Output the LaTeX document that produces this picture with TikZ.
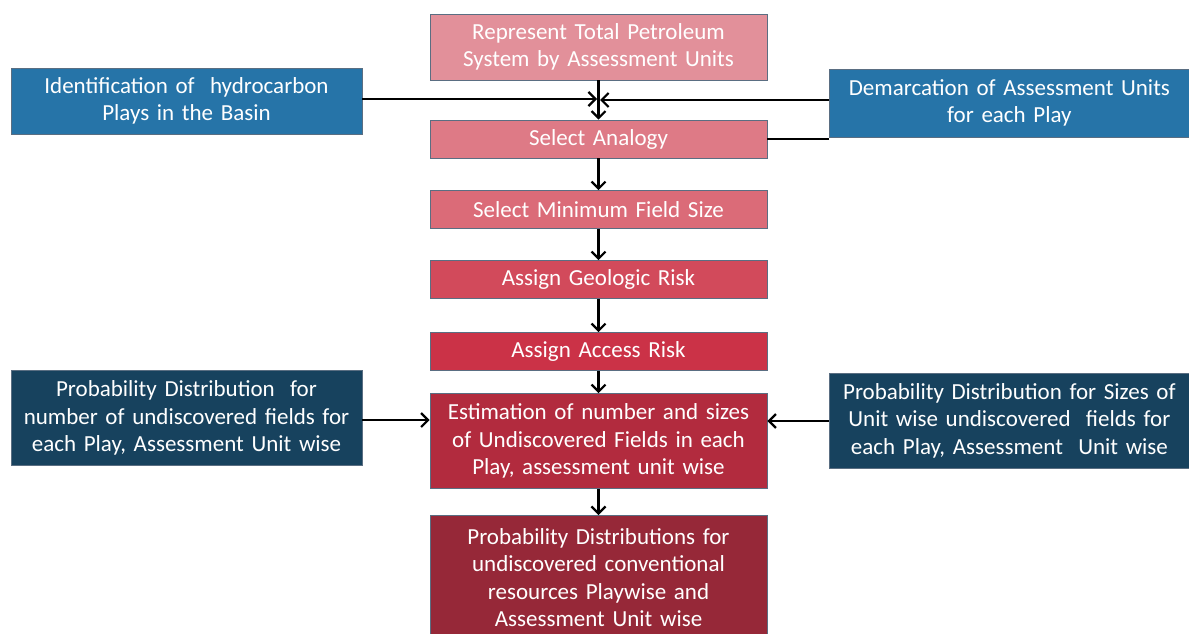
\documentclass[tikz,border=0pt]{standalone}
\usepackage{fontspec}
\setmainfont{Carlito}
\usetikzlibrary{arrows.meta}
\definecolor{c1}{HTML}{E2909A}
\definecolor{c2}{HTML}{DE7A86}
\definecolor{c3}{HTML}{DB6B78}
\definecolor{c4}{HTML}{D24A5B}
\definecolor{c5}{HTML}{CB3247}
\definecolor{c6}{HTML}{B22B3E}
\definecolor{c7}{HTML}{962838}
\definecolor{bl}{HTML}{2674A8}
\definecolor{dk}{HTML}{17425E}
\definecolor{edge}{HTML}{5A6E82}
\begin{document}
\begin{tikzpicture}[x=1pt,y=-1pt,
  box/.style={draw=edge,line width=0.8pt,rectangle,text=white,align=center,
    font=\fontsize{23}{27.5}\selectfont,inner sep=2pt},
  mid/.style={box,minimum width=337pt,text width=333pt},
  side/.style={box,minimum width=351pt,text width=347pt},
  con/.style={line width=2.2pt,-{Straight Barb[length=7pt,width=14pt,line width=2.2pt]}},
  plain/.style={line width=2.2pt}]
\useasboundingbox (0,0) rectangle (1189,633);
\node[mid,fill=c1,minimum height=66pt] (b1) at (598.5,47) {Represent Total Petroleum\\System by Assessment Units};
\node[mid,fill=c2,minimum height=38pt] (b2) at (598.5,139) {Select Analogy};
\node[mid,fill=c3,minimum height=38pt] (b3) at (598.5,209.5) {Select Minimum Field Size};
\node[mid,fill=c4,minimum height=38pt] (b4) at (598.5,279.5) {Assign Geologic Risk};
\node[mid,fill=c5,minimum height=38pt] (b5) at (598.5,351.5) {Assign Access Risk};
\node[mid,fill=c6,minimum height=95pt] (b6) at (598.5,441) {Estimation of number and sizes\\of Undiscovered Fields in each\\Play, assessment unit wise};
\node[mid,fill=c7,minimum height=124pt,anchor=north] (b7) at (598.5,515) {Probability Distributions for\\undiscovered conventional\\resources Playwise and\\Assessment Unit wise};
\node[side,fill=bl,minimum height=66pt] (l1) at (186.5,101) {Identification of\ \ hydrocarbon\\Plays in the Basin};
\node[side,fill=bl,minimum height=68pt,minimum width=360pt,text width=356pt,anchor=west] (r1) at (829,103) {Demarcation of Assessment Units\\for each Play};
\node[side,fill=dk,minimum height=95pt] (l2) at (186.5,418) {Probability Distribution\ \ for\\number of undiscovered fields for\\each Play, Assessment Unit wise};
\node[side,fill=dk,minimum height=95pt,minimum width=360pt,text width=356pt,anchor=west] (r2) at (829,420.5) {Probability Distribution for Sizes of\\Unit wise undiscovered\ \ fields for\\each Play, Assessment\ \ Unit wise};
\coordinate (jl) at (597,99);
\coordinate (jr) at (600,100);
\draw[con] (l1.east |- jl) -- (jl);
\draw[con] (r1.west |- jr) -- (jr);
\draw[con] (b1.south) -- (b2.north);
\draw[plain] (b2.east |- 0,139) -- (r1.west |- 0,139);
\draw[con] (b2.south) -- (b3.north);
\draw[con] (b3.south) -- (b4.north);
\draw[con] (b4.south) -- (b5.north);
\draw[con] (b5.south) -- (b6.north);
\draw[con] (b6.south) -- (b7.north);
\draw[con] (l2.east |- 0,420) -- (b6.west |- 0,420);
\draw[con] (r2.west |- 0,421) -- (b6.east |- 0,421);
\end{tikzpicture}
\end{document}
